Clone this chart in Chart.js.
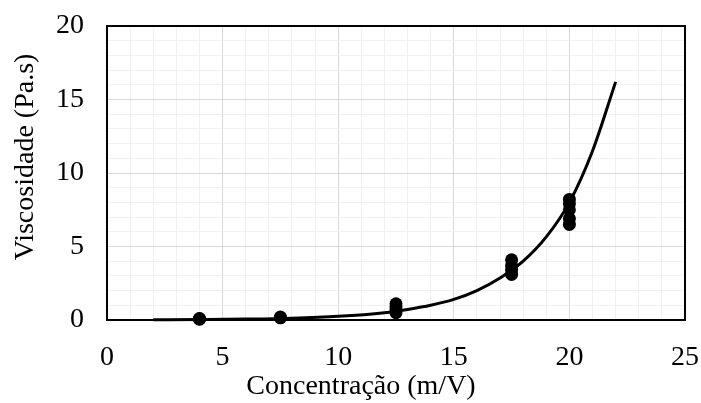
<!DOCTYPE html>
<html>
<head>
<meta charset="utf-8">
<script src="https://cdn.jsdelivr.net/npm/chart.js@4/dist/chart.umd.min.js"></script>
<style>
  html, body { margin: 0; padding: 0; background: #ffffff; }
  #wrap { width: 701px; height: 403px; }
</style>
</head>
<body>
<div id="wrap"><canvas id="c" width="701" height="403"></canvas></div>
<script>
// ---- Data ----
const concentrations = [4, 4, 4, 7.5, 7.5, 12.5, 12.5, 12.5, 12.5, 17.5, 17.5, 17.5, 17.5, 20, 20, 20, 20, 20];
const viscosities    = [0.05, 0.08, 0.1, 0.15, 0.2, 0.5, 0.7, 0.9, 1.1, 3.1, 3.4, 3.7, 4.1, 6.5, 6.9, 7.5, 7.9, 8.2];

// trend curve, points
const trendX = [2, 4, 6, 8, 10, 12, 13, 14, 15, 16, 17, 18, 19, 20, 21, 22];
const trendY = [0.01, 0.03, 0.06, 0.12, 0.25, 0.5, 0.72, 1.0, 1.4, 2.0, 2.85, 4.0, 5.65, 8.0, 11.5, 16.2];

const xTickLabels = ['0', '5', '10', '15', '20', '25'];
const yTickLabels = ['0', '5', '10', '15', '20'];
const xTitle = 'Concentração (m/V)';
const yTitle = 'Viscosidade (Pa.s)';

const FONT = '"Liberation Serif", "Times New Roman", serif';

const pointsData = concentrations.map((x, i) => ({ x: x, y: viscosities[i] }));
const trendData = trendX.map((x, i) => ({ x: x, y: trendY[i] }));

const frameAndTitles = {
  id: 'frameAndTitles',
  beforeDatasetsDraw(chart) {
    const { ctx, chartArea: a } = chart;
    ctx.save();
    ctx.strokeStyle = '#000000';
    ctx.lineWidth = 2;
    ctx.strokeRect(a.left, a.top, a.right - a.left, a.bottom - a.top);
    ctx.restore();
  },
  afterDraw(chart) {
    const { ctx } = chart;
    ctx.save();
    ctx.fillStyle = '#000000';
    ctx.font = '28px ' + FONT;
    ctx.textAlign = 'center';
    ctx.textBaseline = 'alphabetic';
    ctx.fillText(xTitle, 361, 394);
    ctx.translate(26, 157);
    ctx.rotate(-Math.PI / 2);
    ctx.textBaseline = 'middle';
    ctx.fillText(yTitle, 0, 0);
    ctx.restore();
  }
};

new Chart(document.getElementById('c'), {
  type: 'scatter',
  data: {
    datasets: [
      {
        type: 'line',
        label: 'Ajuste',
        data: trendData,
        borderColor: '#000000',
        borderWidth: 3,
        pointRadius: 0,
        fill: false,
        cubicInterpolationMode: 'monotone',
        clip: false
      },
      {
        label: 'Viscosidade',
        data: pointsData,
        backgroundColor: '#000000',
        borderColor: '#000000',
        pointRadius: 6.5,
        pointBorderWidth: 0,
        clip: false
      }
    ]
  },
  options: {
    responsive: false,
    devicePixelRatio: 1,
    animation: false,
    layout: { padding: { left: 0, right: 16, top: 26, bottom: 0 } },
    plugins: {
      legend: { display: false },
      tooltip: { enabled: false }
    },
    scales: {
      x: {
        type: 'linear',
        min: 0, max: 25,
        afterFit(s) { s.height = 83; s.paddingLeft = 0; s.paddingRight = 0; },
        border: { display: false },
        grid: {
          drawTicks: false,
          tickLength: 0,
          lineWidth: 1,
          color: (c) => (c.tick && c.tick.value % 5 === 0) ? '#d9d9d9' : '#f0f0f0'
        },
        ticks: {
          stepSize: 1,
          autoSkip: false,
          maxRotation: 0,
          padding: 21,
          color: '#000000',
          font: { family: FONT, size: 28 },
          callback: (v) => (v % 5 === 0) ? xTickLabels[v / 5] : ''
        }
      },
      y: {
        type: 'linear',
        min: 0, max: 20,
        afterFit(s) { s.width = 107; s.paddingTop = 0; s.paddingBottom = 0; },
        border: { display: false },
        grid: {
          drawTicks: false,
          tickLength: 0,
          lineWidth: 1,
          color: (c) => (c.tick && c.tick.value % 5 === 0) ? '#d9d9d9' : '#f0f0f0'
        },
        ticks: {
          stepSize: 1,
          autoSkip: false,
          padding: 23,
          color: '#000000',
          font: { family: FONT, size: 28 },
          callback: (v) => (v % 5 === 0) ? yTickLabels[v / 5] : ''
        }
      }
    }
  },
  plugins: [frameAndTitles]
});
</script>
</body>
</html>
